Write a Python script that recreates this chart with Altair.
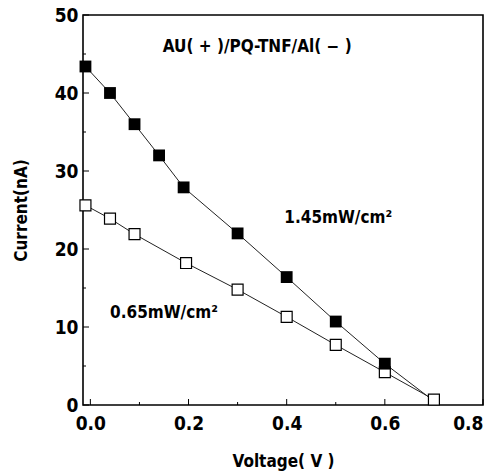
import altair as alt
import pandas as pd

# Photocurrent vs. bias voltage for the Au(+)/PQ-TNF/Al(-) cell at two light intensities
volt_high = [-0.01, 0.04, 0.09, 0.14, 0.19, 0.30, 0.40, 0.50, 0.60, 0.70]
curr_high = [43.4, 40.0, 36.0, 32.0, 27.9, 22.0, 16.4, 10.7, 5.3, 0.5]
volt_low = [-0.01, 0.04, 0.09, 0.195, 0.30, 0.40, 0.50, 0.60, 0.70]
curr_low = [25.6, 23.9, 21.9, 18.2, 14.8, 11.3, 7.7, 4.2, 0.7]

x_major = [0.0, 0.2, 0.4, 0.6, 0.8]
x_minor = [0.1, 0.3, 0.5, 0.7]
y_major = [0, 10, 20, 30, 40, 50]
y_minor = [5, 15, 25, 35, 45]

labels = ["AU( + )/PQ-TNF/Al( − )", "1.45mW/cm²", "0.65mW/cm²"]
label_v = [0.34, 0.505, 0.15]
label_i = [45.9, 24.0, 11.8]

FONT = "'DejaVu Sans Condensed', 'Liberation Sans', sans-serif"
W, H = 400, 390

high = pd.DataFrame({"V": volt_high, "I": curr_high})
low = pd.DataFrame({"V": volt_low, "I": curr_low})
ann = pd.DataFrame({"text": labels, "V": label_v, "I": label_i})

xs = alt.Scale(domain=[-0.015, 0.8], nice=False, zero=False)
ys = alt.Scale(domain=[0, 50], nice=False)

axis_style = dict(
    grid=False, ticks=False, domain=False,
    labelFont=FONT, labelFontSize=19, labelFontWeight="bold", labelColor="black",
    titleFont=FONT, titleFontSize=17, titleFontWeight="bold", titleColor="black",
)
x_axis = alt.Axis(values=x_major, format=".1f", title="Voltage( V )",
                  labelPadding=9, titlePadding=20, **axis_style)
y_axis = alt.Axis(values=y_major, format="d", title="Current(nA)",
                  labelPadding=5, titlePadding=24, **axis_style)

enc_x = alt.X("V:Q", scale=xs, axis=x_axis)
enc_y = alt.Y("I:Q", scale=ys, axis=y_axis)

line_high = alt.Chart(high).mark_line(color="#222", strokeWidth=1).encode(x=enc_x, y=enc_y)
line_low = alt.Chart(low).mark_line(color="#222", strokeWidth=1).encode(x="V:Q", y="I:Q")

open_sq = dict(shape="square", size=120, filled=True, fill="white",
               stroke="black", strokeWidth=1.2, opacity=1)
pts_low = alt.Chart(low).transform_filter("datum.V < 0.65").mark_point(**open_sq).encode(
    x="V:Q", y="I:Q")
pts_high = alt.Chart(high).transform_filter("datum.V < 0.65").mark_point(
    shape="square", size=140, filled=True, color="black", opacity=1).encode(x="V:Q", y="I:Q")
pts_low_end = alt.Chart(low).transform_filter("datum.V > 0.65").mark_point(**open_sq).encode(
    x="V:Q", y="I:Q")

text = alt.Chart(ann).mark_text(font=FONT, fontSize=17, fontWeight="bold", color="black").encode(
    x="V:Q", y="I:Q", text="text:N")

# inward tick marks along the bottom and left edges
xt_major = alt.Chart(pd.DataFrame({"V": x_major})).mark_rule(color="black", strokeWidth=1).encode(
    x="V:Q", y=alt.value(H), y2=alt.value(H - 6))
xt_minor = alt.Chart(pd.DataFrame({"V": x_minor})).mark_rule(color="black", strokeWidth=1).encode(
    x="V:Q", y=alt.value(H), y2=alt.value(H - 3))
yt_major = alt.Chart(pd.DataFrame({"I": y_major})).mark_rule(color="black", strokeWidth=1).encode(
    y="I:Q", x=alt.value(0), x2=alt.value(6))
yt_minor = alt.Chart(pd.DataFrame({"I": y_minor})).mark_rule(color="black", strokeWidth=1).encode(
    y="I:Q", x=alt.value(0), x2=alt.value(3))

chart = alt.layer(
    line_high, line_low, xt_major, xt_minor, yt_major, yt_minor,
    pts_low, pts_high, pts_low_end, text
).properties(
    width=W, height=H,
    background="white",
    autosize=alt.AutoSizeParams(type="none"),
    padding={"left": 83, "top": 15, "right": 21, "bottom": 69},
).configure_view(
    stroke="black", strokeWidth=1.6
)

chart.save("out.html", embed_options={"renderer": "svg", "actions": False})
